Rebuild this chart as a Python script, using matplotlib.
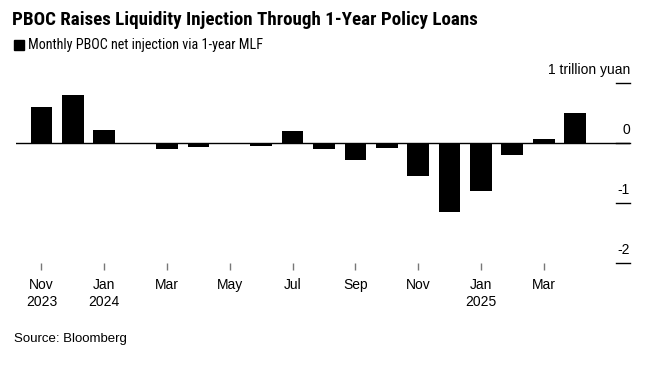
import matplotlib.pyplot as plt
from matplotlib.patches import Rectangle
import matplotlib.transforms as mtransforms

plt.rcParams['font.family'] = ['Liberation Sans', 'DejaVu Sans']
narrow = ['Roboto Condensed', 'Archivo Narrow', 'Liberation Sans', 'DejaVu Sans']

# 月份与数值 (万亿元)
months = ["Nov 2023", "Dec 2023", "Jan 2024", "Feb 2024", "Mar 2024", "Apr 2024",
          "May 2024", "Jun 2024", "Jul 2024", "Aug 2024", "Sep 2024", "Oct 2024",
          "Nov 2024", "Dec 2024", "Jan 2025", "Feb 2025", "Mar 2025", "Apr 2025"]
net_injection = [0.60, 0.80, 0.216, 0.001, -0.093, -0.07, 0.0, -0.055, 0.197, -0.101,
                 -0.291, -0.089, -0.55, -1.145, -0.795, -0.20, 0.063, 0.50]
tick_labels = ["Nov\n2023", "Jan\n2024", "Mar", "May", "Jul", "Sep", "Nov", "Jan\n2025", "Mar"]
y_ticks = [1, 0, -1, -2]
y_tick_labels = ["1 trillion yuan", "0", "-1", "-2"]

fig = plt.figure(figsize=(6.57, 3.66), dpi=100)
ax = fig.add_axes([16 / 657, 103 / 366, (630 - 16) / 657, (263 - 65) / 366])

x = list(range(len(months)))
ax.bar(x, net_injection, width=0.69, color='black', zorder=2)
ax.axhline(0, color='black', lw=1, zorder=3)

ax.set_xlim(-0.81, 18.75)
ax.set_ylim(-2, 1.3)

for s in ax.spines.values():
    s.set_visible(False)

# x 轴刻度
ax.set_xticks(x[::2])
ax.set_xticklabels(tick_labels, fontsize=10, linespacing=1.25)
ax.tick_params(axis='x', length=5, width=1, color='#777777', pad=6)

# y 轴：右侧短刻度线 + 标签在上方
ax.set_yticks([])
trans = mtransforms.blended_transform_factory(ax.transAxes, ax.transData)
for val, lab in zip(y_ticks, y_tick_labels):
    ax.plot([1 - 14 / 614, 1], [val, val], transform=trans, color='black', lw=1,
            clip_on=False, zorder=3)
    ax.text(1, val + 0.1, lab, transform=trans, ha='right', va='bottom', fontsize=10)

# 标题
fig.text(12 / 657, 1 - 20 / 366, "PBOC Raises Liquidity Injection Through 1-Year Policy Loans",
         fontsize=13.7, fontweight='bold', va='center', ha='left', family=narrow)
fig.patches.append(Rectangle((14 / 657, 1 - 50 / 366), 10 / 657, 10 / 366,
                             transform=fig.transFigure, color='black'))
fig.text(28 / 657, 1 - 45 / 366, "Monthly PBOC net injection via 1-year MLF",
         fontsize=10.2, va='center', ha='left', family=narrow)
fig.text(14 / 657, 1 - 339 / 366, "Source: Bloomberg", fontsize=9.5, va='center', ha='left')

fig.savefig("out.png", dpi=100)
